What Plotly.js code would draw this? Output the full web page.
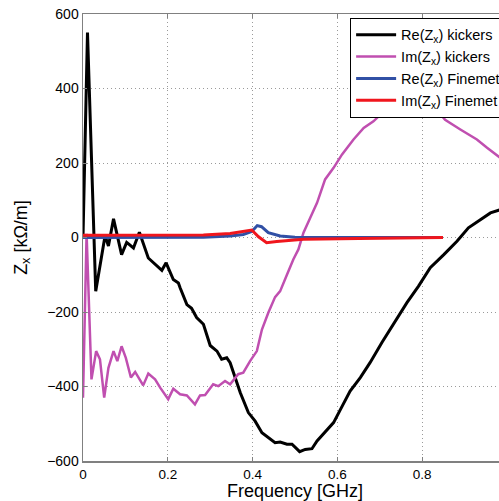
<!DOCTYPE html>
<html>
<head>
<meta charset="utf-8">
<script src="https://cdn.plot.ly/plotly-3.0.1.min.js"></script>
<style>
html, body { margin:0; padding:0; overflow:hidden; background:#fff; }
#chart { width:507px; height:501px; }
</style>
</head>
<body>
<div id="chart"></div>
<script>
// Re(Zx) kickers
const reKickX = [0, 0.0106, 0.030, 0.052, 0.060, 0.072, 0.091, 0.103, 0.119, 0.133, 0.154, 0.186, 0.196, 0.213, 0.225, 0.229, 0.245, 0.256, 0.268, 0.284, 0.300, 0.316, 0.327, 0.339, 0.347, 0.358, 0.371, 0.390, 0.406, 0.422, 0.437, 0.453, 0.465, 0.481, 0.493, 0.511, 0.524, 0.540, 0.552, 0.567, 0.591, 0.607, 0.630, 0.654, 0.677, 0.705, 0.740, 0.764, 0.791, 0.819, 0.851, 0.882, 0.909, 0.937, 0.961, 0.985, 1.0];
const reKickY = [0, 550, -144, 5, -23, 50, -46, -13, -28, 14, -55, -88, -68, -113, -122, -135, -180, -190, -215, -233, -290, -305, -327, -323, -336, -376, -417, -470, -493, -524, -537, -551, -549, -555, -555, -575, -569, -567, -546, -528, -497, -462, -412, -376, -336, -282, -220, -175, -131, -81, -46, -10, 26, 48, 66, 75, 80];
// Im(Zx) kickers
const imKickX = [0, 0.0085, 0.020, 0.031, 0.040, 0.050, 0.060, 0.072, 0.081, 0.091, 0.101, 0.113, 0.123, 0.142, 0.154, 0.170, 0.182, 0.201, 0.213, 0.229, 0.245, 0.264, 0.276, 0.288, 0.307, 0.319, 0.335, 0.347, 0.366, 0.378, 0.394, 0.410, 0.422, 0.437, 0.453, 0.465, 0.481, 0.496, 0.508, 0.520, 0.536, 0.552, 0.571, 0.591, 0.611, 0.638, 0.662, 0.685, 0.72, 0.75, 0.78, 0.81, 0.84, 0.854, 0.890, 0.929, 0.953, 0.985, 1.0];
const imKickY = [-430, 10, -381, -305, -327, -430, -350, -305, -332, -292, -323, -376, -361, -397, -365, -381, -403, -434, -406, -421, -424, -448, -424, -423, -394, -399, -385, -394, -367, -363, -332, -305, -247, -202, -160, -144, -100, -59, -32, 13, 53, 93, 156, 187, 223, 263, 294, 312, 350, 375, 385, 372, 335, 316, 290, 263, 241, 214, 200];
// Re(Zx) Finemet
const reFineX = [0, 0.284, 0.347, 0.378, 0.398, 0.411, 0.421, 0.437, 0.465, 0.50, 0.60, 0.849];
const reFineY = [0, 1, 4, 8, 16, 32, 29, 13, 4, 1, 0, 0];
// Im(Zx) Finemet
const imFineX = [0, 0.284, 0.347, 0.380, 0.398, 0.414, 0.433, 0.457, 0.52, 0.65, 0.849];
const imFineY = [6, 7, 11, 16, 20, 2, -14, -11, -5, -3, 0];

const names = ["Re(Z<sub>x</sub>) kickers", "Im(Z<sub>x</sub>) kickers", "Re(Z<sub>x</sub>) Finemet", "Im(Z<sub>x</sub>) Finemet"];
const xTicks = [0, 0.2, 0.4, 0.6, 0.8];
const xTickText = ["0", "0.2", "0.4", "0.6", "0.8"];
const yTicks = [-600, -400, -200, 0, 200, 400, 600];

const traces = [
  {x: reKickX, y: reKickY, name: names[0], mode: "lines", line: {color: "#000000", width: 3}},
  {x: imKickX, y: imKickY, name: names[1], mode: "lines", line: {color: "#c04fb0", width: 2.5}},
  {x: reFineX, y: reFineY, name: names[2], mode: "lines", line: {color: "#3150a5", width: 3}},
  {x: imFineX, y: imFineY, name: names[3], mode: "lines", line: {color: "#f0161d", width: 3}}
];

const font = "Liberation Sans, Arial, Helvetica, sans-serif";
const layout = {
  width: 507, height: 501,
  margin: {l: 83, r: 0, t: 14, b: 40},
  paper_bgcolor: "#ffffff", plot_bgcolor: "#ffffff",
  font: {family: font, size: 14, color: "#000"},
  showlegend: true,
  legend: {
    x: 0.630, y: 0.9915, xanchor: "left", yanchor: "top",
    bgcolor: "#ffffff", bordercolor: "#000000", borderwidth: 1,
    font: {family: font, size: 14.5, color: "#000"},
    itemwidth: 40, tracegroupgap: 0
  },
  xaxis: {
    range: [0, 1], tickvals: xTicks, ticktext: xTickText,
    showgrid: true, gridcolor: "#9a9a9a", griddash: "1px,3px", gridwidth: 1,
    zeroline: false, showline: true, linecolor: "#808080", linewidth: 1.5, mirror: "ticks",
    ticks: "inside", ticklen: 4, tickcolor: "#808080", ticklabelstandoff: 0,
    tickfont: {family: font, size: 13.5, color: "#000"},
    title: {text: "Frequency [GHz]", font: {family: font, size: 18, color: "#000"}, standoff: 7}
  },
  yaxis: {
    range: [-600, 600], tickvals: yTicks,
    showgrid: true, gridcolor: "#9a9a9a", griddash: "1px,3px", gridwidth: 1,
    zeroline: false, showline: true, linecolor: "#808080", linewidth: 1.5, mirror: "ticks",
    ticks: "inside", ticklen: 4, tickcolor: "#808080",
    tickfont: {family: font, size: 14, color: "#000"},
    title: {text: "Z<sub>x</sub> [kΩ/m]", font: {family: font, size: 18, color: "#000"}, standoff: 15}
  }
};

Plotly.newPlot("chart", traces, layout, {displayModeBar: false, staticPlot: true});
</script>
</body>
</html>
